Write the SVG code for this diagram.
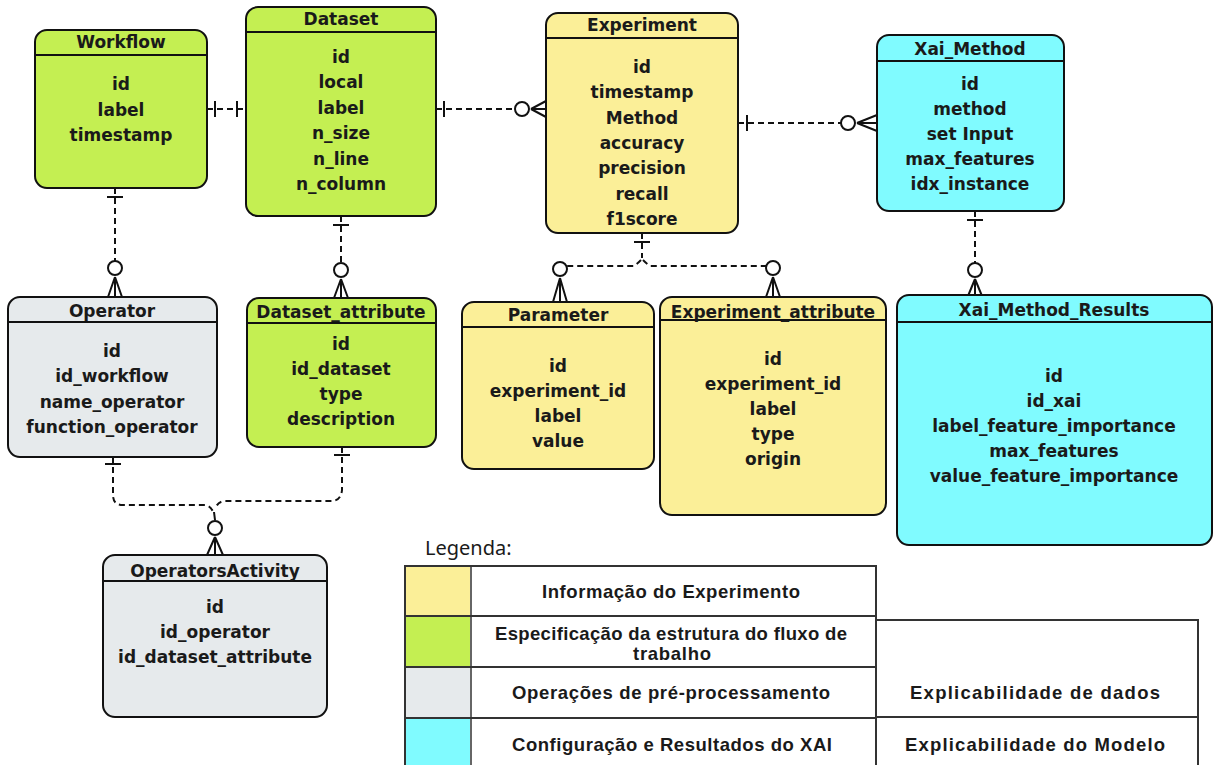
<svg xmlns="http://www.w3.org/2000/svg" width="1215" height="765" viewBox="0 0 1215 765">
  <style>
    .ent { stroke: #111; stroke-width: 2; }
    .green { fill: #c4ef52; }
    .yellow { fill: #fbef98; }
    .cyan { fill: #80fbff; }
    .gray { fill: #e6eaec; }
    .sep { stroke: #111; stroke-width: 2; }
    .t { font-family: "DejaVu Sans", Verdana, sans-serif; font-weight: bold; font-size: 17px; fill: #1a1a1a; text-anchor: middle; }
    .rel { fill: none; stroke: #111; stroke-width: 2; stroke-dasharray: 6 4; }
    .mark { fill: none; stroke: #111; stroke-width: 2; }
    .ring { fill: #fff; stroke: #111; stroke-width: 2; }
    .cell { fill: #fff; stroke: #333; stroke-width: 2; }
    .lg { font-family: "Liberation Sans", Arial, sans-serif; font-weight: bold; font-size: 18.5px; fill: #1a1a1a; text-anchor: middle; }
    .lgt { font-family: "Noto Sans", sans-serif; font-size: 20px; fill: #1a1a1a; }
  </style>

  <rect width="1215" height="765" fill="#fff"/>

  <!-- relationships -->
  <g id="connectors">
    <!-- Workflow 1 - 1 Dataset -->
    <path class="rel" d="M207 109 H246"/>
    <path class="mark" d="M215 101 V117 M237 101 V117"/>

    <!-- Dataset 1 - N Experiment -->
    <path class="rel" d="M436 109 H515"/>
    <path class="mark" d="M444 101 V117"/>
    <circle class="ring" cx="522" cy="109" r="7"/>
    <path class="mark" d="M531 109 L546 101 M531 109 H546 M531 109 L546 117"/>

    <!-- Experiment 1 - N Xai_Method -->
    <path class="rel" d="M738 123 H841"/>
    <path class="mark" d="M747 115 V131"/>
    <circle class="ring" cx="848" cy="123" r="7"/>
    <path class="mark" d="M857 123 L877 115 M857 123 H877 M857 123 L877 131"/>

    <!-- Workflow 1 - N Operator -->
    <path class="rel" d="M115 188 V261"/>
    <path class="mark" d="M107 197 H123"/>
    <circle class="ring" cx="115" cy="268" r="7"/>
    <path class="mark" d="M115 277 L108 297 M115 277 V297 M115 277 L122 297"/>

    <!-- Dataset 1 - N Dataset_attribute -->
    <path class="rel" d="M341 216 V263"/>
    <path class="mark" d="M333 225 H349"/>
    <circle class="ring" cx="341" cy="270" r="7"/>
    <path class="mark" d="M341 279 L334 298 M341 279 V298 M341 279 L348 298"/>

    <!-- Xai_Method 1 - N Xai_Method_Results -->
    <path class="rel" d="M975 211 V263"/>
    <path class="mark" d="M967 220 H983"/>
    <circle class="ring" cx="975" cy="270" r="7"/>
    <path class="mark" d="M975 279 L968 296 M975 279 V296 M975 279 L982 296"/>

    <!-- Experiment 1 - N Parameter / Experiment_attribute -->
    <path class="rel" d="M642 233 V258"/>
    <path class="mark" d="M634 242 H650"/>
    <path class="rel" d="M641 260 Q638 263 634 266 H567"/>
    <path class="rel" d="M643 260 Q646 263 650 266 H766"/>
    <circle class="ring" cx="560" cy="269" r="7"/>
    <path class="mark" d="M560 278 L553 302 M560 278 V302 M560 278 L567 302"/>
    <circle class="ring" cx="773" cy="268" r="7"/>
    <path class="mark" d="M773 277 L766 297 M773 277 V297 M773 277 L780 297"/>

    <!-- Operator / Dataset_attribute 1 - N OperatorsActivity -->
    <path class="rel" d="M113 457 V495 Q113 505 123 505 H205 Q211 506 213 512"/>
    <path class="mark" d="M105 464 H121"/>
    <path class="rel" d="M342 447 V490 Q341 501 331 501 H224 Q218 502 216 507"/>
    <path class="mark" d="M334 455 H350"/>
    <path class="mark" d="M214 512 L215 520"/>
    <circle class="ring" cx="215" cy="528" r="7"/>
    <path class="mark" d="M215 537 L207 555 M215 537 V555 M215 537 L223 555"/>
  </g>

  <!-- entities -->
  <g id="workflow">
    <rect class="ent green" x="35" y="30" width="172" height="158" rx="12"/>
    <line class="sep" x1="35" y1="55" x2="207" y2="55"/>
    <text class="t" x="121" y="48">Workflow</text>
    <text class="t" x="121" y="90">id</text>
    <text class="t" x="121" y="116">label</text>
    <text class="t" x="121" y="141">timestamp</text>
  </g>

  <g id="dataset">
    <rect class="ent green" x="246" y="7" width="190" height="209" rx="12"/>
    <line class="sep" x1="246" y1="32" x2="436" y2="32"/>
    <text class="t" x="341" y="25">Dataset</text>
    <text class="t" x="341" y="63">id</text>
    <text class="t" x="341" y="88">local</text>
    <text class="t" x="341" y="114">label</text>
    <text class="t" x="341" y="139">n_size</text>
    <text class="t" x="341" y="165">n_line</text>
    <text class="t" x="341" y="190">n_column</text>
  </g>

  <g id="experiment">
    <rect class="ent yellow" x="546" y="13" width="192" height="220" rx="12"/>
    <line class="sep" x1="546" y1="38" x2="738" y2="38"/>
    <text class="t" x="642" y="31">Experiment</text>
    <text class="t" x="642" y="73">id</text>
    <text class="t" x="642" y="98">timestamp</text>
    <text class="t" x="642" y="124">Method</text>
    <text class="t" x="642" y="149">accuracy</text>
    <text class="t" x="642" y="174">precision</text>
    <text class="t" x="642" y="200">recall</text>
    <text class="t" x="642" y="225">f1score</text>
  </g>

  <g id="xai_method">
    <rect class="ent cyan" x="877" y="35" width="187" height="176" rx="12"/>
    <line class="sep" x1="877" y1="61" x2="1064" y2="61"/>
    <text class="t" x="970" y="55">Xai_Method</text>
    <text class="t" x="970" y="90">id</text>
    <text class="t" x="970" y="115">method</text>
    <text class="t" x="970" y="140">set Input</text>
    <text class="t" x="970" y="165">max_features</text>
    <text class="t" x="970" y="190">idx_instance</text>
  </g>

  <g id="operator">
    <rect class="ent gray" x="8" y="297" width="209" height="160" rx="12"/>
    <line class="sep" x1="8" y1="322" x2="217" y2="322"/>
    <text class="t" x="112" y="317">Operator</text>
    <text class="t" x="112" y="357">id</text>
    <text class="t" x="112" y="382">id_workflow</text>
    <text class="t" x="112" y="408">name_operator</text>
    <text class="t" x="112" y="433">function_operator</text>
  </g>

  <g id="dataset_attribute">
    <rect class="ent green" x="247" y="298" width="189" height="149" rx="12"/>
    <line class="sep" x1="247" y1="323" x2="436" y2="323"/>
    <text class="t" x="341" y="318">Dataset_attribute</text>
    <text class="t" x="341" y="350">id</text>
    <text class="t" x="341" y="375">id_dataset</text>
    <text class="t" x="341" y="400">type</text>
    <text class="t" x="341" y="425">description</text>
  </g>

  <g id="parameter">
    <rect class="ent yellow" x="462" y="302" width="192" height="167" rx="12"/>
    <line class="sep" x1="462" y1="327" x2="654" y2="327"/>
    <text class="t" x="558" y="321">Parameter</text>
    <text class="t" x="558" y="372">id</text>
    <text class="t" x="558" y="397">experiment_id</text>
    <text class="t" x="558" y="422">label</text>
    <text class="t" x="558" y="447">value</text>
  </g>

  <g id="experiment_attribute">
    <rect class="ent yellow" x="660" y="297" width="226" height="218" rx="12"/>
    <line class="sep" x1="660" y1="320" x2="886" y2="320"/>
    <text class="t" x="773" y="318">Experiment_attribute</text>
    <text class="t" x="773" y="365">id</text>
    <text class="t" x="773" y="390">experiment_id</text>
    <text class="t" x="773" y="415">label</text>
    <text class="t" x="773" y="440">type</text>
    <text class="t" x="773" y="465">origin</text>
  </g>

  <g id="xai_method_results">
    <rect class="ent cyan" x="897" y="295" width="315" height="250" rx="12"/>
    <line class="sep" x1="897" y1="322" x2="1212" y2="322"/>
    <text class="t" x="1054" y="316">Xai_Method_Results</text>
    <text class="t" x="1054" y="382">id</text>
    <text class="t" x="1054" y="407">id_xai</text>
    <text class="t" x="1054" y="432">label_feature_importance</text>
    <text class="t" x="1054" y="457">max_features</text>
    <text class="t" x="1054" y="482">value_feature_importance</text>
  </g>

  <g id="operators_activity">
    <rect class="ent gray" x="103" y="555" width="224" height="162" rx="12"/>
    <line class="sep" x1="103" y1="581" x2="327" y2="581"/>
    <text class="t" x="215" y="577">OperatorsActivity</text>
    <text class="t" x="215" y="613">id</text>
    <text class="t" x="215" y="638">id_operator</text>
    <text class="t" x="215" y="663">id_dataset_attribute</text>
  </g>

  <!-- colour key -->
  <g id="legend">
    <text class="lgt" x="425" y="555">Legenda:</text>
    <rect class="cell" x="876" y="620" width="322" height="150"/>
    <line x1="876" y1="717" x2="1198" y2="717" stroke="#333" stroke-width="2"/>
    <rect class="cell" x="405" y="566" width="471" height="204"/>
    <rect x="406" y="567" width="64" height="49" fill="#fbef98"/>
    <rect x="406" y="617" width="64" height="49" fill="#c4ef52"/>
    <rect x="406" y="668" width="64" height="49" fill="#e6eaec"/>
    <rect x="406" y="719" width="64" height="50" fill="#80fbff"/>
    <line x1="471" y1="566" x2="471" y2="770" stroke="#333" stroke-width="1.5"/>
    <line x1="405" y1="616" x2="876" y2="616" stroke="#333" stroke-width="2"/>
    <line x1="405" y1="667" x2="876" y2="667" stroke="#333" stroke-width="2"/>
    <line x1="405" y1="718" x2="876" y2="718" stroke="#333" stroke-width="2"/>
    <text class="lg" x="671" y="598" textLength="258" lengthAdjust="spacing">Informação do Experimento</text>
    <text class="lg" x="671" y="640" textLength="352" lengthAdjust="spacing">Especificação da estrutura do fluxo de</text>
    <text class="lg" x="672" y="660" textLength="78" lengthAdjust="spacing">trabalho</text>
    <text class="lg" x="671" y="699" textLength="318" lengthAdjust="spacing">Operações de pré-processamento</text>
    <text class="lg" x="672" y="751" textLength="320" lengthAdjust="spacing">Configuração e Resultados do XAI</text>
    <text class="lg" x="1035" y="699" textLength="250" lengthAdjust="spacing">Explicabilidade de dados</text>
    <text class="lg" x="1035" y="751" textLength="260" lengthAdjust="spacing">Explicabilidade do Modelo</text>
  </g>
</svg>
